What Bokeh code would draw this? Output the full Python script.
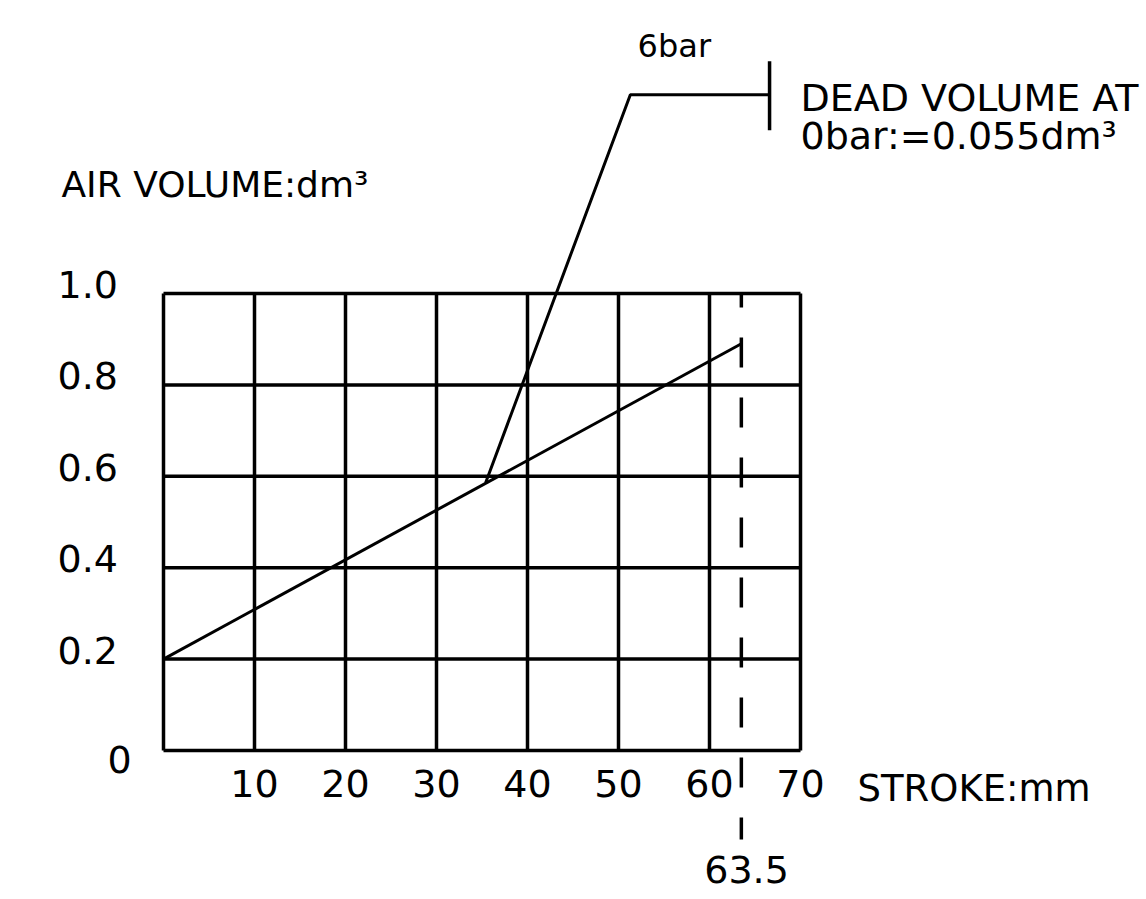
from bokeh.plotting import figure
from bokeh.models import Range1d
from bokeh.core.properties import value
from bokeh.embed import file_html
from bokeh.resources import INLINE

# ---- data ----
x_ticks = [0, 10, 20, 30, 40, 50, 60, 70]
x_tick_labels = ["", "10", "20", "30", "40", "50", "60", "70"]
y_ticks = [0, 0.2, 0.4, 0.6, 0.8, 1.0]
y_tick_labels = ["0", "0.2", "0.4", "0.6", "0.8", "1.0"]

stroke_mm = [0, 63.5]
air_volume = [0.2, 0.89]

full_stroke = 63.5
leader_x = [35.4, 51.3, 66.6]
leader_y = [0.586, 1.435, 1.435]

x_title = "STROKE:mm"
y_title = "AIR VOLUME:dm³"
pressure_label = "6bar"
dead_volume_lines = ["DEAD VOLUME AT", "0bar:=0.055dm³"]

# ---- layout constants (px per unit: x 9.1, y 457) ----
FONT = value("DejaVu Sans")
W, H = 1146, 899
KX, KY = 9.1, 457.0
xs = -163 / KX
ys_top = 750 / KY
UP = 14 / KY  # baseline correction for text

p = figure(width=W, height=H, output_backend="svg", toolbar_location=None,
           x_range=Range1d(xs, xs + W / KX), y_range=Range1d(ys_top - H / KY, ys_top),
           x_axis_location=None, y_axis_location=None, min_border=0)
p.grid.visible = False
p.outline_line_color = None
p.background_fill_color = "white"
p.border_fill_color = "white"

x0, x1 = x_ticks[0], x_ticks[-1]
y0, y1 = y_ticks[0], y_ticks[-1]

# grid box
p.segment(x0=x_ticks, x1=x_ticks, y0=[y0] * len(x_ticks), y1=[y1] * len(x_ticks),
          line_color="black", line_width=3.5)
p.segment(x0=[x0] * len(y_ticks), x1=[x1] * len(y_ticks), y0=y_ticks, y1=y_ticks,
          line_color="black", line_width=3.5)

# main line
p.line(stroke_mm, air_volume, line_color="black", line_width=3)

# dashed stroke-end line
p.line([full_stroke, full_stroke], [y1, -0.195], line_color="black", line_width=3.5,
       line_dash="30 30", line_dash_offset=16)

# leader
p.line(leader_x, leader_y, line_color="black", line_width=3)
p.line([leader_x[-1], leader_x[-1]], [1.508, 1.357], line_color="black", line_width=3.5)

# tick labels
p.text(x=[v for v in x_ticks], y=[-0.103 + UP] * len(x_ticks), text=x_tick_labels,
       text_font=FONT, text_font_size="38px", text_align="center",
       text_baseline="alphabetic", text_color="black")
ylx = [-11.65 if t != "0" else -6.15 for t in y_tick_labels]
yly = [(v - 0.011 if t != "0" else -0.050) + UP for v, t in zip(y_ticks, y_tick_labels)]
p.text(x=ylx, y=yly, text=y_tick_labels, text_font=FONT, text_font_size="38px",
       text_align="left", text_baseline="alphabetic", text_color="black")

# titles
p.text(x=[76.26], y=[-0.114 + UP], text=[x_title], text_font=FONT, text_font_size="37px",
       text_align="left", text_baseline="alphabetic", text_color="black")
p.text(x=[-11.21], y=[1.208 + UP], text=[y_title], text_font=FONT, text_font_size="36px",
       text_align="left", text_baseline="alphabetic", text_color="black")
p.text(x=[full_stroke + 0.57], y=[-0.291 + UP], text=[str(full_stroke)], text_font=FONT,
       text_font_size="38px", text_align="center", text_baseline="alphabetic",
       text_color="black")

# annotations
p.text(x=[52.1], y=[1.51 + UP], text=[pressure_label], text_font=FONT, text_font_size="32px",
       text_align="left", text_baseline="alphabetic", text_color="black")
p.text(x=[70.0, 70.0], y=[1.398 + UP, 1.313 + UP], text=dead_volume_lines, text_font=FONT,
       text_font_size="38px", text_align="left", text_baseline="alphabetic",
       text_color="black")

open("out.html", "w").write(file_html(p, INLINE))
